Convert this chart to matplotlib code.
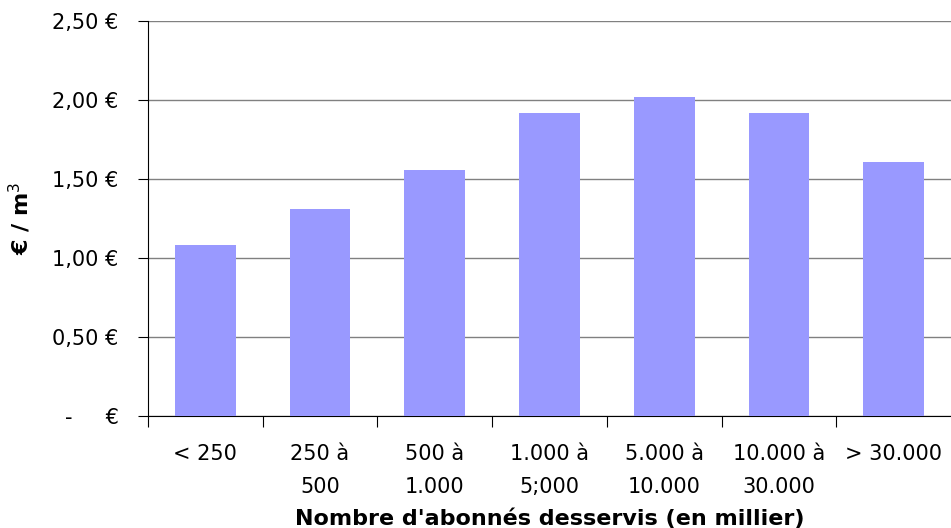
import matplotlib.pyplot as plt
import numpy as np

plt.rcParams['font.family'] = ['DejaVu Sans']

categories = ['< 250', '250 à\n500', '500 à\n1.000', '1.000 à\n5;000',
              '5.000 à\n10.000', '10.000 à\n30.000', '> 30.000']
prix = [1.08, 1.31, 1.56, 1.92, 2.02, 1.92, 1.61]
yticks = [0, 0.5, 1.0, 1.5, 2.0, 2.5]
ylabels = ['-     €', '0,50 €', '1,00 €', '1,50 €', '2,00 €', '2,50 €']

fig = plt.figure(figsize=(9.51, 5.28), dpi=100)
ax = fig.add_axes([0.1556, 0.212, 0.8444, 0.748])

x = np.arange(len(categories))
ax.bar(x, prix, width=0.53, color='#9999FF', zorder=3)

ax.set_xlim(-0.5, 6.5)
ax.set_ylim(0, 2.5)
ax.set_yticks(yticks)
ax.set_yticklabels(ylabels, fontsize=15)
ax.yaxis.grid(True, color='#808080', linewidth=1, zorder=0)

ax.set_xticks(np.arange(-0.5, 6.5, 1.0))
ax.set_xticklabels([])
ax.set_xticks(x, minor=True)
ax.set_xticklabels(categories, minor=True, fontsize=15, linespacing=1.8)
ax.tick_params(axis='x', which='minor', length=0, pad=20)
ax.tick_params(axis='x', which='major', length=8, direction='out')
ax.tick_params(axis='y', length=7, direction='out', pad=14)

for s in ['top', 'right']:
    ax.spines[s].set_visible(False)
for s in ['left', 'bottom']:
    ax.spines[s].set_color('black')

ax.set_xlabel("Nombre d'abonnés desservis (en millier)", fontsize=16,
              fontweight='bold', va='center')
ax.xaxis.set_label_coords(0.5, -0.261)
ax.set_ylabel('€ / m$^3$', fontsize=16, fontweight='bold', va='center')
ax.yaxis.set_label_coords(-0.159, 0.5)

fig.savefig('out.png', dpi=100)
